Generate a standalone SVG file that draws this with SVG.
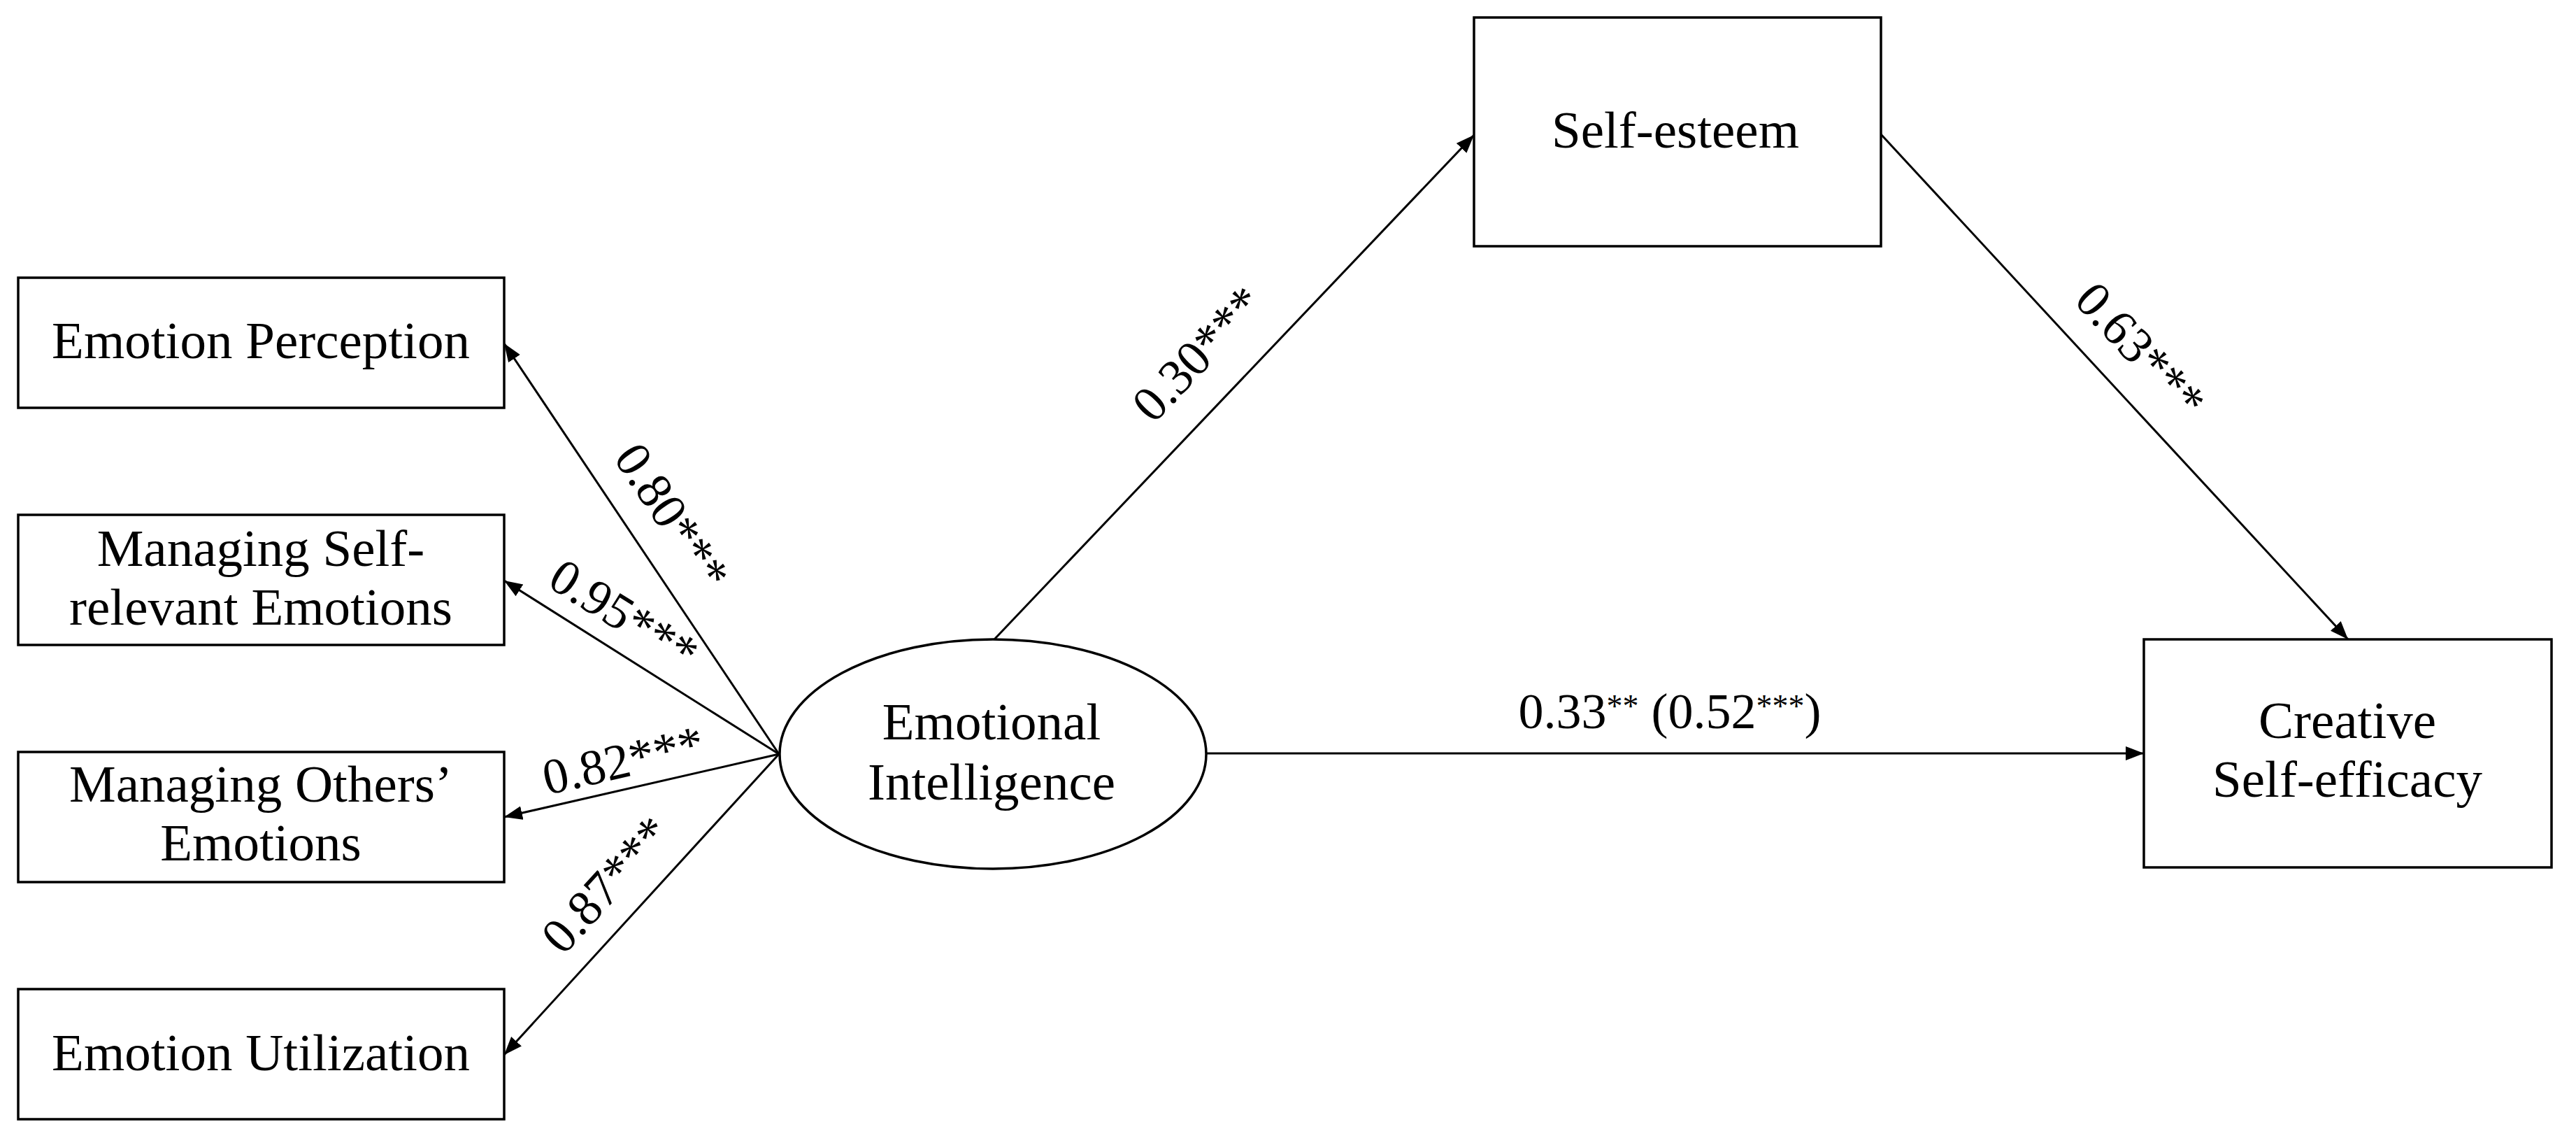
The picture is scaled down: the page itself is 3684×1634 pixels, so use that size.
<svg xmlns="http://www.w3.org/2000/svg" width="3684" height="1634" viewBox="0 0 3684 1634">
<style>
  .box { fill: #ffffff; stroke: #000000; stroke-width: 3.5; }
  .lbl { font-family: "Liberation Serif", "Times New Roman", serif; font-size: 75px; fill: #000000; text-anchor: middle; }
  .elbl { font-family: "Liberation Serif", "Times New Roman", serif; font-size: 72px; fill: #000000; text-anchor: middle; }
  .conn { stroke: #000000; stroke-width: 3; fill: none; marker-end: url(#arrow); }
</style>
<defs>
  <marker id="arrow" markerUnits="userSpaceOnUse" markerWidth="28" markerHeight="22" refX="26" refY="10" orient="auto">
    <path d="M0,0 L26,10 L0,20 Z" fill="#000000"/>
  </marker>
</defs>
<rect width="3684" height="1634" fill="#ffffff"/>

<g id="connectors">
  <line class="conn" x1="1114" y1="1078" x2="721" y2="491"/>
  <line class="conn" x1="1114" y1="1078" x2="721" y2="830"/>
  <line class="conn" x1="1114" y1="1078" x2="721" y2="1168"/>
  <line class="conn" x1="1114" y1="1078" x2="721" y2="1508"/>
  <line class="conn" x1="1422" y1="914" x2="2108" y2="193"/>
  <line class="conn" x1="2690" y1="192" x2="3358" y2="914"/>
  <line class="conn" x1="1725" y1="1077" x2="3066" y2="1077"/>
  <text class="elbl" transform="translate(962,738) rotate(56.2)" y="25">0.80***</text>
  <text class="elbl" transform="translate(893,878) rotate(32.1)" y="25">0.95***</text>
  <text class="elbl" transform="translate(891,1086) rotate(-12.9)" y="25">0.82***</text>
  <text class="elbl" transform="translate(866,1264) rotate(-47.6)" y="25">0.87***</text>
  <text class="elbl" transform="translate(1712,505) rotate(-46.4)" y="25">0.30***</text>
  <text class="elbl" transform="translate(3062,500) rotate(47.2)" y="25">0.63***</text>
  <text class="elbl" x="2388" y="1041">0.33<tspan font-size="46" dy="-16">**</tspan><tspan dy="16"> (0.52</tspan><tspan font-size="46" dy="-16">***</tspan><tspan dy="16">)</tspan></text>
</g>

<g id="node-emotion-perception">
  <rect class="box" x="26" y="397" width="695" height="186"/>
  <text class="lbl" x="373" y="512">Emotion Perception</text>
</g>
<g id="node-managing-self">
  <rect class="box" x="26" y="736" width="695" height="186"/>
  <text class="lbl" x="373" y="809">Managing Self-</text>
  <text class="lbl" x="373" y="893">relevant Emotions</text>
</g>
<g id="node-managing-others">
  <rect class="box" x="26" y="1075" width="695" height="186"/>
  <text class="lbl" x="373" y="1146">Managing Others’</text>
  <text class="lbl" x="373" y="1230">Emotions</text>
</g>
<g id="node-emotion-utilization">
  <rect class="box" x="26" y="1414" width="695" height="186"/>
  <text class="lbl" x="373" y="1530">Emotion Utilization</text>
</g>
<g id="node-emotional-intelligence">
  <ellipse class="box" cx="1420" cy="1078" rx="305" ry="164"/>
  <text class="lbl" x="1418" y="1057">Emotional</text>
  <text class="lbl" x="1418" y="1143">Intelligence</text>
</g>
<g id="node-self-esteem">
  <rect class="box" x="2108" y="25" width="582" height="327"/>
  <text class="lbl" x="2396" y="211">Self-esteem</text>
</g>
<g id="node-creative-self-efficacy">
  <rect class="box" x="3066" y="914" width="583" height="326"/>
  <text class="lbl" x="3357" y="1055">Creative</text>
  <text class="lbl" x="3357" y="1139">Self-efficacy</text>
</g>
</svg>
